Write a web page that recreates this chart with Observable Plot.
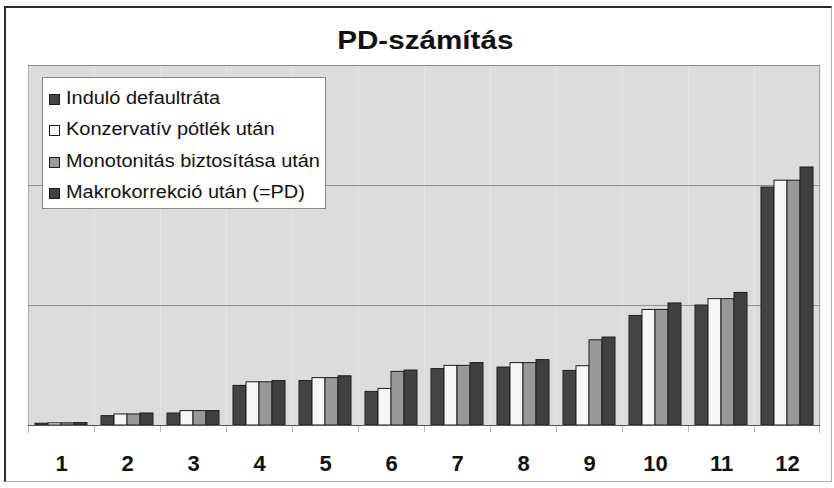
<!DOCTYPE html>
<html>
<head>
<meta charset="utf-8">
<script src="https://cdn.jsdelivr.net/npm/d3@7"></script>
<script src="https://cdn.jsdelivr.net/npm/@observablehq/plot@0.6"></script>
<style>
  html, body { margin: 0; padding: 0; background: #fff; }
  #wrap { position: relative; width: 834px; height: 488px; overflow: hidden; font-family: "Liberation Sans", Arial, sans-serif; }
  #wrap svg { position: absolute; left: 0; top: 0; }
  #border { position: absolute; left: 4px; top: 6px; width: 828px; height: 476px; box-sizing: border-box;
    border-left: 2px solid #2a2a2a; border-top: 2px solid #2a2a2a; border-right: 1px solid #b0b0b0; border-bottom: 1px solid #b0b0b0; pointer-events: none; }
  #title { position: absolute; left: 8px; top: 27px; width: 834px; text-align: center; }
  #title span { display: inline-block; font-weight: bold; font-size: 26px; line-height: 26px; color: #111; transform: scaleX(1.14); transform-origin: center; }
  #legend { position: absolute; left: 42px; top: 77px; width: 284px; height: 132px; box-sizing: border-box;
    background: #fff; border: 1px solid #8a8a8a; padding-top: 5px; }
  .item { height: 31.3px; line-height: 31.3px; white-space: nowrap; font-size: 17.5px; color: #111; }
  .sw { display: inline-block; width: 9px; height: 9px; border: 1px solid #1c1c1c; margin-left: 6px; margin-right: 6px; vertical-align: -1px; }
  .lab { display: inline-block; transform: scaleX(1.14); transform-origin: left center; }
</style>
</head>
<body>
<div id="wrap">
  <div id="chart"></div>
  <div id="border"></div>
  <div id="title"><span></span></div>
  <div id="legend"></div>
</div>
<script>
const title = "PD-számítás";
const categories = ["1", "2", "3", "4", "5", "6", "7", "8", "9", "10", "11", "12"];
const seriesNames = [
  "Induló defaultráta",
  "Konzervatív pótlék után",
  "Monotonitás biztosítása után",
  "Makrokorrekció után (=PD)"
];
const seriesColors = ["#444444", "#f7f7f7", "#999999", "#404040"];
const induloValues      = [0.015, 0.078, 0.100, 0.330, 0.370, 0.280, 0.470, 0.483, 0.455, 0.913, 1.000, 1.983];
const konzervativValues = [0.018, 0.092, 0.120, 0.360, 0.395, 0.305, 0.497, 0.520, 0.494, 0.963, 1.053, 2.040];
const monotonValues     = [0.018, 0.092, 0.120, 0.360, 0.395, 0.447, 0.497, 0.520, 0.710, 0.963, 1.053, 2.040];
const makroValues       = [0.020, 0.100, 0.120, 0.370, 0.410, 0.458, 0.520, 0.545, 0.733, 1.017, 1.105, 2.150];
const gridValues = [1, 2, 3];
const yDomain = [0, 3];

const seriesValues = [induloValues, konzervativValues, monotonValues, makroValues];
const rows = categories.flatMap((c, i) =>
  seriesNames.map((s, j) => ({cat: c, series: s, value: seriesValues[j][i]}))
);

const W = 834, H = 488;
const mL = 26, mR = 12, mT = 65, mB = 63;
const plotH = H - mT - mB;
const facetW = (W - mL - mR) / categories.length;
const edge = "#8f8f8f";

const chart = Plot.plot({
  width: W,
  height: H,
  marginLeft: mL,
  marginRight: mR,
  marginTop: mT,
  marginBottom: mB,
  style: {fontFamily: "'Liberation Sans', Arial, sans-serif", fontSize: "22px", fontWeight: "bold", color: "#111", background: "transparent"},
  fx: {domain: categories, padding: 0, axis: "bottom", label: null, tickSize: 0, tickPadding: 30},
  x: {domain: seriesNames, paddingInner: 0, paddingOuter: 0.5, axis: null},
  y: {domain: yDomain, axis: null},
  color: {domain: seriesNames, range: seriesColors},
  marks: [
    Plot.frame({fill: "#dcdcdc", stroke: "none"}),
    Plot.ruleY(gridValues, {stroke: edge, strokeWidth: 1}),
    Plot.rect([categories[0]], {fx: d => d, fill: edge, insetRight: facetW - 1, insetBottom: -8}),
    Plot.rect([categories[categories.length - 1]], {fx: d => d, fill: edge, insetLeft: facetW - 1, insetBottom: -8}),
    Plot.rect(categories.slice(1), {fx: d => d, fill: edge, insetRight: facetW - 1, insetTop: plotH, insetBottom: -7}),
    Plot.barY(rows, {fx: "cat", x: "series", y: "value", fill: "series", stroke: "#1c1c1c", strokeWidth: 1}),
    Plot.ruleY([0], {stroke: "#555"})
  ]
});
document.getElementById("chart").appendChild(chart);

document.querySelector("#title span").textContent = title;
const legend = document.getElementById("legend");
seriesNames.forEach((s, j) => {
  const row = document.createElement("div");
  row.className = "item";
  const sw = document.createElement("span");
  sw.className = "sw";
  sw.style.background = seriesColors[j];
  const lab = document.createElement("span");
  lab.className = "lab";
  lab.textContent = s;
  row.appendChild(sw);
  row.appendChild(lab);
  legend.appendChild(row);
});
</script>
</body>
</html>
